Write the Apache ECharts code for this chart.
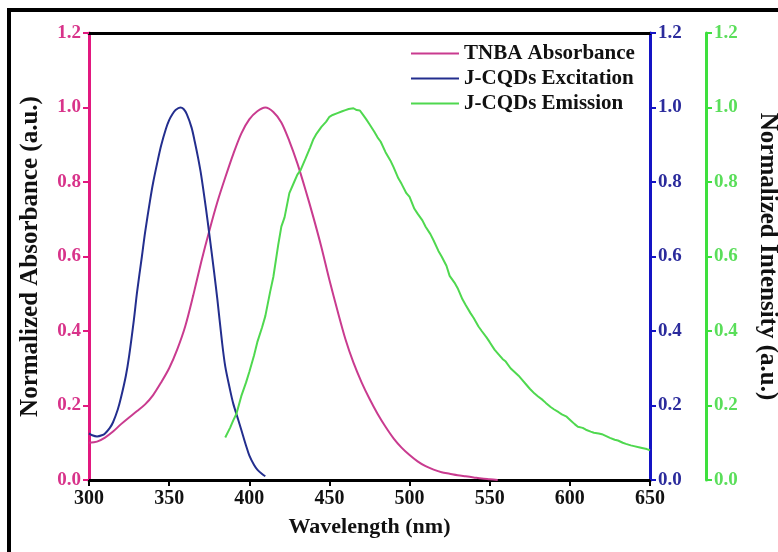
<!DOCTYPE html>
<html>
<head>
<meta charset="utf-8">
<script src="https://cdn.jsdelivr.net/npm/echarts@6/dist/echarts.min.js"></script>
<style>html,body{margin:0;padding:0;background:#fff;overflow:hidden}#c{width:778px;height:552px}</style>
</head>
<body>
<div id="c"></div>
<script>
var seriesNames = ['TNBA Absorbance', 'J-CQDs Excitation', 'J-CQDs Emission'];
var xTicks = [300, 350, 400, 450, 500, 550, 600, 650];
var yTicks = [0.0, 0.2, 0.4, 0.6, 0.8, 1.0, 1.2];

var absorbance = [
[300,0.100],[305,0.103],[310,0.114],[315,0.130],[320,0.150],[325,0.168],[330,0.185],[335,0.203],
[340,0.228],[345,0.262],[350,0.300],[355,0.350],[360,0.412],[365,0.495],[370,0.585],[375,0.668],
[380,0.745],[385,0.812],[390,0.875],[395,0.930],[400,0.968],[405,0.990],[410,1.000],[415,0.988],
[420,0.960],[425,0.910],[430,0.850],[435,0.780],[440,0.705],[445,0.625],[450,0.537],[455,0.455],
[460,0.378],[465,0.315],[470,0.263],[475,0.218],[480,0.178],[485,0.143],[490,0.112],[495,0.087],
[500,0.067],[505,0.050],[510,0.037],[515,0.028],[520,0.021],[525,0.017],[530,0.013],[535,0.010],
[540,0.007],[545,0.004],[550,0.002],[555,0.000]
];

var excitation = [
[300,0.125],[302,0.120],[305,0.117],[308,0.120],[310,0.125],[313,0.140],[315,0.155],[318,0.190],
[320,0.222],[323,0.280],[325,0.332],[328,0.430],[330,0.505],[333,0.600],[335,0.665],[338,0.748],
[340,0.798],[343,0.860],[345,0.898],[348,0.943],[350,0.966],[352,0.982],[354,0.993],[357,1.000],
[359,0.996],[361,0.982],[364,0.946],[366,0.908],[368,0.866],[370,0.818],[373,0.728],[375,0.662],
[378,0.560],[380,0.488],[383,0.370],[385,0.305],[388,0.242],[390,0.205],[393,0.163],[395,0.135],
[398,0.092],[400,0.066],[403,0.040],[405,0.028],[408,0.016],[410,0.010]
];

var emission = [
[385,0.114],[388,0.140],[390,0.160],[392,0.178],[395,0.225],[398,0.262],[400,0.290],[403,0.335],
[405,0.370],[408,0.410],[410,0.440],[413,0.505],[415,0.545],[418,0.630],[420,0.680],[422,0.705],
[425,0.770],[428,0.800],[430,0.820],[432,0.832],[435,0.862],[438,0.893],[440,0.915],[442,0.930],
[445,0.948],[448,0.962],[450,0.975],[452,0.980],[455,0.985],[458,0.990],[460,0.993],[462,0.996],
[465,0.998],[467,0.993],[469,0.992],[471,0.980],[473,0.968],[475,0.955],[478,0.935],[480,0.920],
[482,0.908],[485,0.880],[488,0.858],[490,0.840],[493,0.810],[495,0.795],[498,0.770],[500,0.760],
[503,0.728],[505,0.715],[508,0.697],[510,0.680],[513,0.660],[515,0.643],[518,0.615],[520,0.600],
[523,0.575],[525,0.548],[528,0.530],[530,0.515],[533,0.485],[535,0.470],[538,0.448],[540,0.435],
[543,0.412],[545,0.400],[548,0.383],[550,0.370],[553,0.350],[555,0.340],[558,0.325],[560,0.318],
[563,0.300],[565,0.292],[568,0.280],[570,0.270],[573,0.255],[575,0.245],[578,0.232],[580,0.225],
[583,0.215],[585,0.207],[588,0.196],[590,0.190],[593,0.182],[595,0.176],[598,0.170],[600,0.162],
[603,0.150],[605,0.143],[608,0.140],[610,0.135],[613,0.130],[615,0.127],[618,0.125],[620,0.123],
[623,0.117],[625,0.113],[628,0.108],[630,0.106],[633,0.100],[635,0.097],[638,0.093],[640,0.091],
[643,0.088],[645,0.086],[648,0.083],[650,0.080]
];

var FONT = 'Liberation Serif';
var yMin = yTicks[0], yMax = yTicks[yTicks.length - 1];
var xMin = xTicks[0], xMax = xTicks[xTicks.length - 1];

function yAxisDef(color, labelColor, pos, offset, name, nameRotate, nameGap, nameSize) {
  return {
    type: 'value', position: pos, offset: offset, min: yMin, max: yMax, interval: 0.2,
    name: name, nameLocation: 'middle', nameGap: nameGap, nameRotate: nameRotate,
    nameTextStyle: { fontFamily: FONT, fontWeight: 'bold', fontSize: nameSize, color: '#111' },
    axisLine: { show: true, onZero: false, lineStyle: { color: color, width: 3 } },
    axisTick: { show: true, inside: false, length: 6, lineStyle: { color: color, width: 2 } },
    axisLabel: { margin: 8, fontFamily: FONT, fontWeight: 'bold', fontSize: 19, color: labelColor,
      formatter: function (v) { return v.toFixed(1); } },
    splitLine: { show: false }
  };
}

var chart = echarts.init(document.getElementById('c'), null, { renderer: 'canvas', width: 778, height: 552 });
chart.setOption({
  animation: false,
  backgroundColor: '#fff',
  grid: { left: 89, right: 128, top: 33, bottom: 72, containLabel: false, outerBoundsMode: 'none' },
  graphic: [{
    type: 'rect', silent: true, z: 100,
    shape: { x: 9, y: 10, width: 820, height: 620 },
    style: { fill: 'none', stroke: '#000', lineWidth: 4 }
  }],
  legend: {
    data: seriesNames, orient: 'vertical', left: 406, top: 38, itemGap: 4,
    icon: 'rect', itemWidth: 48, itemHeight: 2,
    textStyle: { fontFamily: FONT, fontWeight: 'bold', fontSize: 21, color: '#111' }
  },
  xAxis: [{
    type: 'value', min: xMin, max: xMax, interval: 50, position: 'bottom',
    name: 'Wavelength (nm)', nameLocation: 'middle', nameGap: 36,
    nameTextStyle: { fontFamily: FONT, fontWeight: 'bold', fontSize: 22, color: '#111' },
    axisLine: { show: true, onZero: false, lineStyle: { color: '#000', width: 3 } },
    axisTick: { show: true, inside: false, length: 6, lineStyle: { color: '#000', width: 2 } },
    axisLabel: { margin: 9, fontFamily: FONT, fontWeight: 'bold', fontSize: 20, color: '#111' },
    splitLine: { show: false }
  }, {
    type: 'value', min: xMin, max: xMax, position: 'top',
    axisLine: { show: true, onZero: false, lineStyle: { color: '#000', width: 3 } },
    axisTick: { show: false }, axisLabel: { show: false }, splitLine: { show: false }
  }],
  yAxis: [
    yAxisDef('#e2187f', '#d8338a', 'left', 0, 'Normalized Absorbance (a.u.)', 90, 46, 25),
    yAxisDef('#1414c4', '#2b2b9c', 'right', 0, '', 0, 0, 20),
    yAxisDef('#3ee03e', '#5ade5a', 'right', 56, 'Normalized Intensity (a.u.)', -90, 49, 25)
  ],
  series: [
    { name: seriesNames[0], type: 'line', yAxisIndex: 0, data: absorbance, showSymbol: false, symbol: 'none',
      smooth: 0.3, color: '#c93b8f', lineStyle: { color: '#c93b8f', width: 2 } },
    { name: seriesNames[1], type: 'line', yAxisIndex: 1, data: excitation, showSymbol: false, symbol: 'none',
      smooth: 0.3, color: '#232e8e', lineStyle: { color: '#232e8e', width: 2 } },
    { name: seriesNames[2], type: 'line', yAxisIndex: 2, data: emission, showSymbol: false, symbol: 'none',
      smooth: false, color: '#4fd84f', lineStyle: { color: '#4fd84f', width: 2 } }
  ]
});
</script>
</body>
</html>
